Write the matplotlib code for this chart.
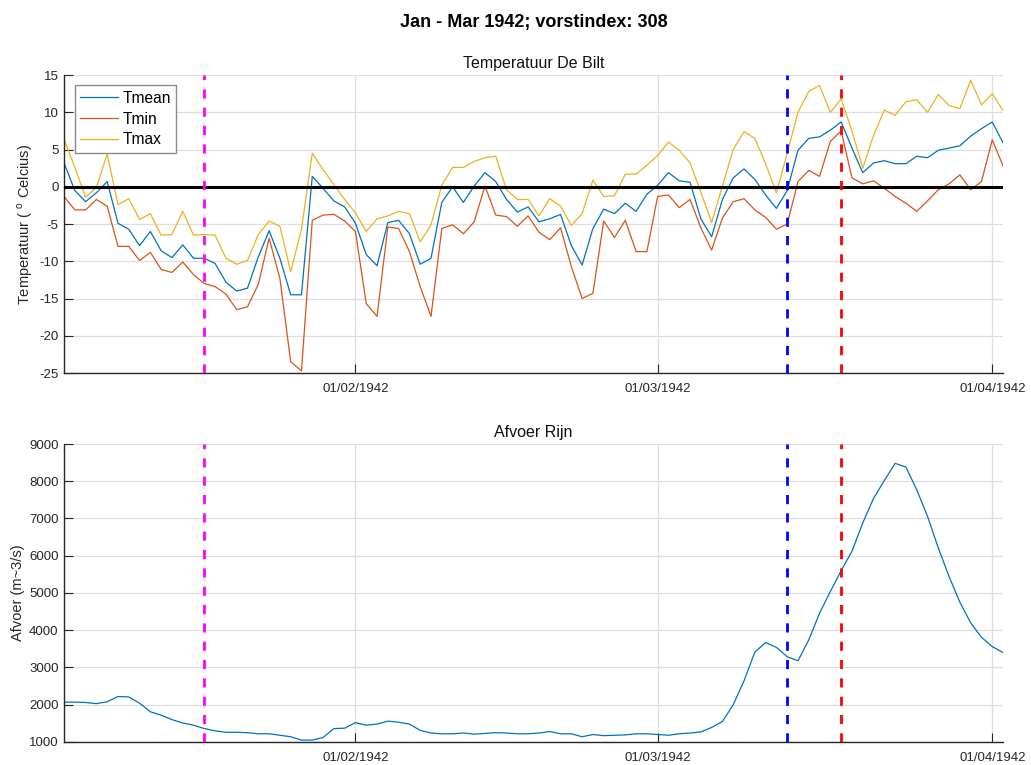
import numpy as np
import pandas as pd
from matplotlib import pyplot as plt
import matplotlib.dates as mdates

plt.rcParams['font.family'] = ['Liberation Sans', 'DejaVu Sans']
plt.rcParams['mathtext.fontset'] = 'custom'
plt.rcParams['mathtext.rm'] = 'Liberation Sans'
plt.rcParams['axes.unicode_minus'] = False

# daily values, 5 Jan - 2 Apr 1942
start_date = '1942-01-05'

tmean = [3.2, -0.5, -2.0, -0.8, 0.7, -4.9, -5.7, -7.9, -6.0, -8.6, -9.5, -7.8, -9.6, -9.6,
         -10.3, -12.8, -14.0, -13.6, -9.4, -5.9, -9.6, -14.5, -14.5, 1.4, -0.2, -1.9, -2.7,
         -4.9, -9.1, -10.6, -4.8, -4.5, -6.3, -10.4, -9.6, -2.1, 0.0, -2.1, 0.1, 1.9, 0.7,
         -1.7, -3.4, -2.7, -4.7, -4.3, -3.7, -7.9, -10.5, -5.6, -3.0, -3.6, -2.2, -3.3, -1.0, 0.2,
         1.9, 0.8, 0.6, -4.3, -6.7, -1.7, 1.2, 2.4, 1.0, -1.1, -2.9, -0.5, 4.9, 6.5, 6.7, 7.6,
         8.7, 5.2, 1.9, 3.2, 3.5, 3.1, 3.1, 4.1, 3.9, 4.9, 5.2, 5.5, 6.8, 7.8, 8.7, 5.9]

tmin = [-1.3, -3.1, -3.1, -1.7, -2.6, -8.0, -8.0, -9.9, -8.8, -11.1, -11.5, -10.1, -11.8, -13.0,
        -13.4, -14.4, -16.5, -16.1, -13.1, -6.9, -12.3, -23.5, -24.7, -4.5, -3.8, -3.7, -4.6,
        -6.0, -15.7, -17.4, -5.4, -5.6, -8.7, -13.4, -17.4, -5.6, -5.1, -6.3, -4.7, 0.1, -3.8,
        -4.0, -5.3, -3.9, -6.1, -7.1, -5.5, -10.7, -15.0, -14.3, -4.6, -6.8, -4.5, -8.7, -8.7, -1.3,
        -1.1, -2.8, -1.7, -5.5, -8.5, -4.2, -2.0, -1.6, -3.1, -4.1, -5.7, -5.0, 0.7, 2.2, 1.4, 6.1,
        7.5, 1.2, 0.4, 0.8, -0.2, -1.3, -2.2, -3.3, -1.9, -0.4, 0.4, 1.6, -0.4, 0.7, 6.3, 2.8]

tmax = [6.4, 2.6, -1.4, -0.1, 4.4, -2.4, -1.6, -4.4, -3.6, -6.5, -6.4, -3.3, -6.5, -6.4,
        -6.5, -9.6, -10.4, -9.9, -6.4, -4.6, -5.3, -11.4, -5.7, 4.5, 2.3, 0.3, -1.7,
        -3.5, -6.0, -4.3, -3.9, -3.3, -3.6, -7.4, -5.1, 0.2, 2.6, 2.6, 3.4, 3.9, 4.1,
        -0.4, -1.7, -1.7, -3.9, -1.6, -2.6, -5.2, -3.6, 0.9, -1.3, -1.2, 1.7, 1.7, 2.9, 4.2,
        6.0, 4.9, 3.2, -0.7, -4.8, 0.1, 5.0, 7.4, 6.5, 3.1, -0.8, 4.5, 10.0, 12.8, 13.6, 10.0,
        11.8, 7.5, 2.5, 6.9, 10.3, 9.6, 11.4, 11.7, 10.0, 12.4, 10.9, 10.5, 14.3, 11.0, 12.5, 10.2]

afvoer = [2070, 2070, 2060, 2030, 2080, 2220, 2210, 2040, 1810, 1720, 1600, 1510, 1450, 1360,
          1300, 1260, 1260, 1250, 1220, 1220, 1180, 1140, 1050, 1050, 1120, 1360, 1370,
          1520, 1450, 1480, 1560, 1530, 1480, 1310, 1240, 1220, 1220, 1240, 1210, 1230, 1250,
          1240, 1220, 1220, 1240, 1280, 1220, 1220, 1140, 1200, 1170, 1180, 1190, 1220, 1220, 1200,
          1180, 1220, 1240, 1270, 1390, 1550, 2000, 2640, 3410, 3670, 3540, 3290, 3180, 3740, 4460,
          5040, 5600, 6120, 6880, 7540, 8020, 8480, 8380, 7770, 7060, 6210, 5440, 4750, 4200, 3810,
          3560, 3400]

# marker dates
line_dates = ['1942-01-18', '1942-03-13', '1942-03-18']
line_colors = ['#ff00ff', '#0000ff', '#ff0000']

tick_dates = ['1942-02-01', '1942-03-01', '1942-04-01']

dates = pd.date_range(start_date, periods=len(tmean))
mlab_colors = ['#0072bd', '#d95319', '#edb120']


def style_axes(ax):
    ax.spines['top'].set_visible(False)
    ax.spines['right'].set_visible(False)
    for s in ['left', 'bottom']:
        ax.spines[s].set_color('#262626')
        ax.spines[s].set_linewidth(1.0)
    ax.tick_params(direction='in', length=6.5, width=0.8, colors='#262626',
                   labelsize=9.5, pad=4)
    ax.tick_params(axis='x', pad=7)
    ax.grid(True, color='#dfdfdf', linewidth=0.9)
    ax.set_axisbelow(True)
    ax.set_xlim(dates[0], dates[-1])
    ax.set_xticks(pd.to_datetime(tick_dates))
    ax.xaxis.set_major_formatter(mdates.DateFormatter('%d/%m/%Y'))
    for d, c in zip(line_dates, line_colors):
        ax.axvline(pd.Timestamp(d), color=c, linewidth=2.0,
                   linestyle=(0, (3.3, 3.3)), zorder=4)


fig = plt.figure(figsize=(10.31, 7.65), dpi=100)
ax1 = fig.add_axes([0.0621, 0.5124, 0.9108, 0.3895])
ax2 = fig.add_axes([0.0621, 0.0301, 0.9108, 0.3895])

# temperatures
ax1.plot(dates, tmean, color=mlab_colors[0], linewidth=0.9, label='Tmean')
ax1.plot(dates, tmin, color=mlab_colors[1], linewidth=0.9, label='Tmin')
ax1.plot(dates, tmax, color=mlab_colors[2], linewidth=0.9, label='Tmax')
ax1.axhline(0, color='k', linewidth=2.2, zorder=3)
ax1.set_ylim(-25, 15)
ax1.set_yticks(np.arange(-25, 16, 5))
style_axes(ax1)
ax1.set_title('Temperatuur De Bilt', fontsize=11.5, color='#111111', pad=5)
ax1.set_ylabel('Temperatuur ( $^{\\mathrm{o}}$ Celcius)', fontsize=10.5, color='#262626', labelpad=3)
leg = ax1.legend(loc='upper left', bbox_to_anchor=(0.0115, 0.965), fontsize=11.2,
                 handlelength=2.4, handletextpad=0.3, labelspacing=0.36,
                 borderpad=0.35, fancybox=False, framealpha=1, borderaxespad=0)
leg.get_frame().set_edgecolor('#8a8a8a')
leg.get_frame().set_linewidth(1.0)

# Rhine discharge
ax2.plot(dates, afvoer, color=mlab_colors[0], linewidth=0.9)
ax2.set_ylim(1000, 9000)
ax2.set_yticks(np.arange(1000, 9001, 1000))
style_axes(ax2)
ax2.set_title('Afvoer Rijn', fontsize=11.5, color='#111111', pad=5)
ax2.set_ylabel('Afvoer (m~3/s)', fontsize=10.5, color='#262626', labelpad=3)

# centred over the axes rather than the figure
fig.suptitle('Jan - Mar 1942; vorstindex: 308', fontsize=13, fontweight='bold',
             x=0.5175, y=0.982)

fig.savefig('out.png', dpi=100)
